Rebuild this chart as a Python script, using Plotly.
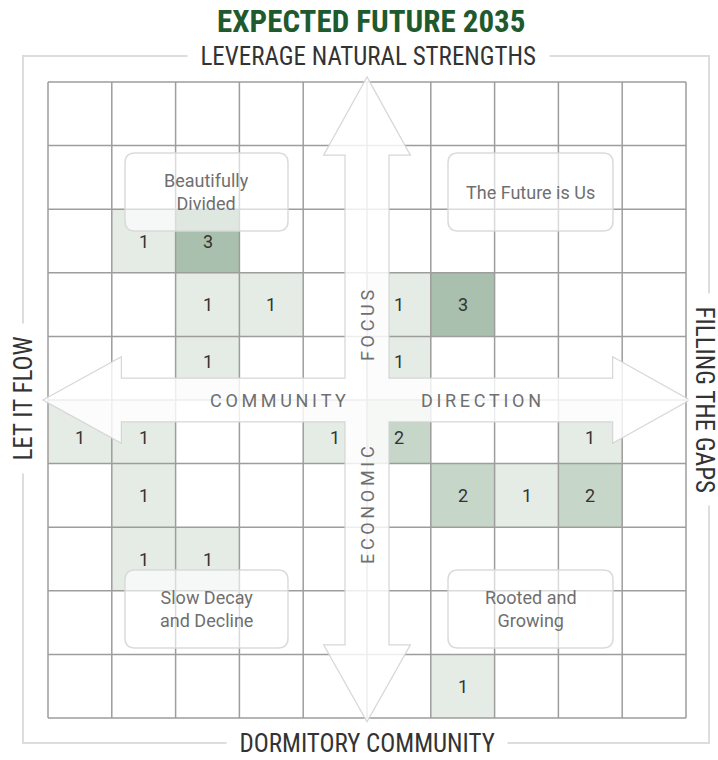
"""Expected Future 2035 - 시나리오 매트릭스"""
import plotly.graph_objects as go

# ---- data ----
rows = [2, 2, 3, 3, 3, 3, 4, 4, 5, 5, 5, 5, 5, 6, 6, 6, 6, 7, 7, 9]
cols = [1, 2, 2, 3, 5, 6, 2, 5, 0, 1, 4, 5, 8, 1, 6, 7, 8, 1, 2, 6]
counts = [1, 3, 1, 1, 1, 3, 1, 1, 1, 1, 1, 2, 1, 1, 2, 1, 2, 1, 1, 1]

quad_labels = ["Beautifully<br>Divided", "The Future is Us",
               "Slow Decay<br>and Decline", "Rooted and<br>Growing"]
axis_top = "LEVERAGE NATURAL STRENGTHS"
axis_bottom = "DORMITORY COMMUNITY"
axis_left = "LET IT FLOW"
axis_right = "FILLING THE GAPS"
title = "EXPECTED FUTURE 2035"
N = 10

# ---- geometry (pixels) ----
W, H = 718, 760
GL, GR, GT, GB = 48, 686, 82, 718
xs = (GR - GL) / N
ys = (GB - GT) / N


def ux(p):
    return (p - GL) / xs


def uy(p):
    return (p - GT) / ys


z = [[0] * N for _ in range(N)]
for r, c, v in zip(rows, cols, counts):
    z[r][c] = v

CONDENSED = "Liberation Sans Narrow, Roboto Condensed, Roboto, sans-serif"
TXT = "#333333"
MUTED = "#6f6f6f"

fig = go.Figure(go.Heatmap(
    z=z,
    x=[i + 0.5 for i in range(N)],
    y=[i + 0.5 for i in range(N)],
    zmin=0, zmax=3,
    colorscale=[[0, "#ffffff"], [1 / 3, "#e5ece6"], [2 / 3, "#c6d6c9"], [1, "#a8c0ad"]],
    showscale=False,
    hoverinfo="skip",
))

shapes = []
# outer frame
shapes.append(dict(type="rect", xref="x", yref="y", layer="below",
                   x0=ux(23), x1=ux(709), y0=uy(56), y1=uy(743),
                   line=dict(color="#dddddd", width=2)))
# grid
for i in range(N + 1):
    shapes.append(dict(type="line", xref="x", yref="y", layer="above",
                       x0=i, x1=i, y0=0, y1=N, line=dict(color="#9d9d9d", width=1.5)))
    shapes.append(dict(type="line", xref="x", yref="y", layer="above",
                       x0=0, x1=N, y0=i, y1=i, line=dict(color="#9d9d9d", width=1.5)))

# cross arrow
c = N / 2
s, h = 0.345, 0.68
t0, t1 = -0.08, N + 0.06
b0, b1 = 1.15, N - 1.15
pts = [(c, t0), (c + h, b0), (c + s, b0), (c + s, c - s), (b1, c - s), (b1, c - h),
       (t1, c), (b1, c + h), (b1, c + s), (c + s, c + s), (c + s, b1), (c + h, b1),
       (c, t1), (c - h, b1), (c - s, b1), (c - s, c + s), (b0, c + s), (b0, c + h),
       (t0, c), (b0, c - h), (b0, c - s), (c - s, c - s), (c - s, b0), (c - h, b0)]
path = "M " + " L ".join(f"{x:.3f},{y:.3f}" for x, y in pts) + " Z"
shapes.append(dict(type="path", xref="x", yref="y", layer="above", path=path,
                   fillcolor="rgba(255,255,255,0.82)",
                   line=dict(color="rgba(210,210,210,0.9)", width=1.2)))


def rounded(x0, y0, x1, y1, rx, ry):
    return (f"M {x0 + rx},{y0} L {x1 - rx},{y0} Q {x1},{y0} {x1},{y0 + ry} "
            f"L {x1},{y1 - ry} Q {x1},{y1} {x1 - rx},{y1} L {x0 + rx},{y1} "
            f"Q {x0},{y1} {x0},{y1 - ry} L {x0},{y0 + ry} Q {x0},{y0} {x0 + rx},{y0} Z")


boxes = [(125, 153, 288, 231), (448, 153, 613, 231), (125, 570, 288, 648), (448, 570, 613, 648)]
annotations = []
for (x0, y0, x1, y1), lab in zip(boxes, quad_labels):
    shapes.append(dict(type="path", xref="x", yref="y", layer="above",
                       path=rounded(ux(x0), uy(y0), ux(x1), uy(y1), 10 / xs, 10 / ys),
                       fillcolor="rgba(255,255,255,0.62)",
                       line=dict(color="rgba(215,215,215,0.9)", width=1.5)))
    annotations.append(dict(x=ux((x0 + x1) / 2), y=uy((y0 + y1) / 2), text=lab,
                            showarrow=False, font=dict(family="Roboto", size=18, color=MUTED)))

# numbers
nudge = {4: 7, 5: -6}
for r, cc, v in zip(rows, cols, counts):
    annotations.append(dict(x=cc + 0.5, y=r + 0.5, text=str(v), showarrow=False,
                            yshift=nudge.get(r, 0),
                            font=dict(family="Roboto", size=18, color=TXT)))


def spaced(word):
    return "\u2009".join(word)


arrow_font = dict(family="Roboto", size=18, color=MUTED)
annotations += [
    dict(x=ux(278), y=c, text=spaced("COMMUNITY"), showarrow=False, font=arrow_font),
    dict(x=ux(481), y=c, text=spaced("DIRECTION"), showarrow=False, font=arrow_font),
    dict(x=c, y=uy(326), text=spaced("FOCUS"), showarrow=False, textangle=-90, font=arrow_font),
    dict(x=c, y=uy(505), text=spaced("ECONOMIC"), showarrow=False, textangle=-90, font=arrow_font),
]

side_font = dict(family=CONDENSED, size=25, color=TXT)
pad = "\u00a0\u00a0"
annotations += [
    dict(x=ux(368), y=uy(56), text=pad + axis_top + pad, showarrow=False,
         bgcolor="white", font=side_font),
    dict(x=ux(367), y=uy(743), text=pad + axis_bottom + pad, showarrow=False,
         bgcolor="white", font=side_font),
    dict(x=ux(23), y=uy(399), text=pad + axis_left + pad, showarrow=False, textangle=-90,
         bgcolor="white", font=side_font),
    dict(x=ux(705), y=uy(399), text=pad + axis_right + pad, showarrow=False, textangle=90,
         bgcolor="white", font=side_font),
    dict(x=ux(371), y=uy(21), text=f"<b>{title}</b>", showarrow=False,
         font=dict(family=CONDENSED, size=31, color="#1e5a2d")),
]

fig.update_layout(
    width=W, height=H,
    margin=dict(l=0, r=0, t=0, b=0),
    paper_bgcolor="white", plot_bgcolor="white",
    xaxis=dict(range=[-GL / xs, (W - GL) / xs], visible=False, fixedrange=True),
    yaxis=dict(range=[(H - GT) / ys, -GT / ys], visible=False, fixedrange=True),
    shapes=shapes,
    annotations=annotations,
    showlegend=False,
)

fig.write_html("out.html", config=dict(displayModeBar=False),
               post_script="document.body.style.margin='0';")
